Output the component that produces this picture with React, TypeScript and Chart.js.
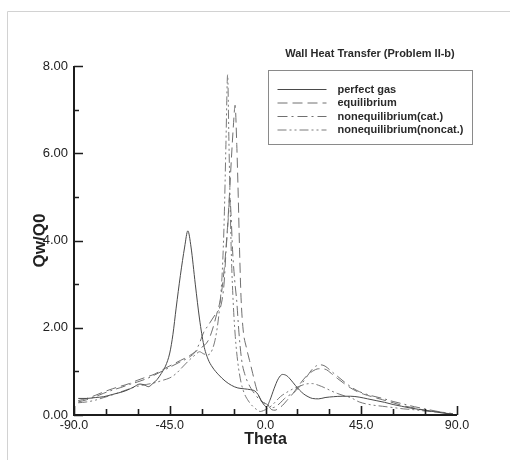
import React, { useEffect, useRef } from "react";
import { Chart, registerables } from "chart.js";

Chart.register(...registerables);

const FONT = "'Liberation Sans', Arial, Helvetica, sans-serif";

const chartTitle = "Wall Heat Transfer (Problem II-b)";
const xTitle = "Theta";
const yTitle = "Qw/Q0";
const seriesLabels = ["perfect gas", "equilibrium", "nonequilibrium(cat.)", "nonequilibrium(noncat.)"];

// [theta, Qw/Q0]
const perfectGas: [number, number][] = [
  [-88, 0.38], [-84, 0.38], [-80, 0.4], [-76, 0.42], [-72, 0.47], [-68, 0.52], [-65, 0.57], [-62, 0.64],
  [-59, 0.71], [-57, 0.69], [-55, 0.65], [-53, 0.72], [-51, 0.81], [-49, 0.95], [-47, 1.12], [-45, 1.42],
  [-43.5, 1.85], [-42, 2.45], [-40, 3.2], [-38, 3.85], [-36.5, 4.22], [-35, 3.85], [-33, 3.0], [-31, 2.2],
  [-29, 1.6], [-27, 1.28], [-25, 1.1], [-22, 0.92], [-19, 0.78], [-16, 0.68], [-13, 0.62], [-10, 0.6],
  [-7, 0.58], [-5, 0.55], [-3.5, 0.47], [-2, 0.33], [-0.5, 0.22], [0.5, 0.19], [2, 0.33], [4, 0.6],
  [6, 0.83], [8, 0.93], [10, 0.9], [12, 0.8], [14, 0.68], [16, 0.57], [18, 0.48], [20, 0.42], [22, 0.38],
  [25, 0.37], [28, 0.4], [32, 0.42], [36, 0.43], [40, 0.43], [44, 0.41], [48, 0.37], [52, 0.33], [56, 0.29],
  [60, 0.24], [64, 0.2], [68, 0.16], [72, 0.13], [76, 0.1], [80, 0.07], [84, 0.04], [88, 0.02],
];

const equilibrium: [number, number][] = [
  [-88, 0.33], [-84, 0.38], [-80, 0.45], [-76, 0.53], [-72, 0.6], [-68, 0.66], [-64, 0.72], [-60, 0.8],
  [-56, 0.87], [-52, 0.94], [-48, 1.05], [-44, 1.15], [-40, 1.25], [-36, 1.35], [-33, 1.45], [-30, 1.55],
  [-27, 1.7], [-25, 1.95], [-23, 2.3], [-21, 2.7], [-19.5, 3.3], [-18, 4.2], [-17, 5.0], [-16, 5.9],
  [-15, 6.7], [-14.3, 7.1], [-13.5, 6.2], [-12.8, 5.0], [-12.2, 3.8], [-11.5, 2.7], [-10.5, 1.95], [-9, 1.55],
  [-7.5, 1.25], [-6, 0.95], [-4.5, 0.65], [-3, 0.42], [-1.5, 0.3], [0, 0.27], [1.5, 0.2], [3, 0.12],
  [4.5, 0.11], [6, 0.15], [8, 0.22], [10, 0.33], [13, 0.5], [16, 0.7], [19, 0.88], [22, 1.0],
  [25, 1.06], [28, 1.05], [31, 0.95], [34, 0.83], [37, 0.72], [40, 0.62], [43, 0.54], [46, 0.48],
  [50, 0.42], [55, 0.35], [60, 0.28], [65, 0.21], [70, 0.16], [75, 0.11], [80, 0.08], [85, 0.05], [88, 0.03],
];

const noneqCat: [number, number][] = [
  [-88, 0.3], [-84, 0.35], [-80, 0.42], [-76, 0.5], [-72, 0.57], [-68, 0.63], [-64, 0.7], [-60, 0.76],
  [-56, 0.83], [-52, 0.92], [-48, 1.02], [-44, 1.12], [-40, 1.22], [-36, 1.32], [-33, 1.45], [-31, 1.65],
  [-29, 1.9], [-27, 2.05], [-25, 2.2], [-23, 2.35], [-21, 2.5], [-19.5, 3.0], [-18.5, 3.8], [-17.5, 4.5],
  [-16.8, 5.0], [-16.2, 4.6], [-15.5, 3.8], [-14.5, 3.1], [-13.5, 2.6], [-12.5, 1.9], [-11.2, 1.26], [-9.5, 0.9],
  [-7.3, 0.65], [-5, 0.48], [-2.6, 0.34], [-1, 0.28], [0.5, 0.25], [2, 0.2], [3.5, 0.17], [5, 0.2],
  [7, 0.28], [9, 0.38], [11, 0.45], [13, 0.5], [16, 0.65], [19, 0.85], [22, 1.05], [24, 1.13], [26, 1.15],
  [28, 1.12], [31, 1.0], [34, 0.88], [37, 0.76], [40, 0.65], [43, 0.56], [46, 0.5], [50, 0.44], [55, 0.38],
  [60, 0.31], [65, 0.25], [70, 0.19], [75, 0.14], [80, 0.09], [85, 0.05], [88, 0.03],
];

const noneqNoncat: [number, number][] = [
  [-88, 0.28], [-84, 0.3], [-80, 0.34], [-76, 0.4], [-72, 0.46], [-68, 0.53], [-64, 0.6], [-60, 0.66],
  [-56, 0.7], [-52, 0.74], [-48, 0.8], [-45, 0.85], [-42, 0.95], [-39, 1.1], [-36, 1.25], [-33, 1.38],
  [-31, 1.45], [-29, 1.4], [-27, 1.38], [-25, 1.5], [-23, 1.9], [-21.5, 2.5], [-20.3, 3.3], [-19.4, 4.5],
  [-18.6, 6.2], [-17.8, 7.8], [-17.2, 6.3], [-16.6, 4.8], [-16, 3.6], [-15.2, 2.6], [-14.2, 1.8], [-13, 1.2],
  [-11.5, 0.75], [-10, 0.5], [-8, 0.32], [-6, 0.2], [-4, 0.12], [-2.5, 0.08], [-1, 0.1], [1, 0.15],
  [3, 0.22], [5, 0.32], [7, 0.42], [10, 0.52], [13, 0.6], [16, 0.66], [19, 0.71], [22, 0.72], [25, 0.68],
  [28, 0.62], [31, 0.55], [34, 0.49], [37, 0.44], [40, 0.4], [44, 0.3], [50, 0.23], [55, 0.2], [60, 0.17],
  [65, 0.14], [70, 0.12], [75, 0.09], [80, 0.07], [85, 0.04], [88, 0.02],
];

const xMajorTicks = [-90, -45, 0, 45, 90];
const xMinorTicks = [-75, -60, -30, -15, 15, 30, 60, 75];
const yMajorTicks = [0, 2, 4, 6, 8];
const yMinorTicks = [1, 3, 5, 7];

const seriesData = [perfectGas, equilibrium, noneqCat, noneqNoncat];
const seriesColors = ["#4a4a4a", "#707070", "#707070", "#7a7a7a"];
const seriesDash: number[][] = [[], [10, 5], [10, 4, 2, 4], [9, 3, 2, 3, 2, 3]];

const decorPlugin = {
  id: "decor",
  beforeDraw(chart: any) {
    const ctx = chart.ctx;
    ctx.save();
    ctx.fillStyle = "#ffffff";
    ctx.fillRect(0, 0, chart.width, chart.height);
    ctx.strokeStyle = "#d2d2d2";
    ctx.lineWidth = 1;
    ctx.beginPath();
    ctx.moveTo(7.5, chart.height);
    ctx.lineTo(7.5, 11.5);
    ctx.lineTo(chart.width, 11.5);
    ctx.stroke();
    ctx.restore();
  },
  afterDraw(chart: any) {
    const ctx = chart.ctx;
    const a = chart.chartArea;
    const xs = chart.scales.x;
    const ys = chart.scales.y;
    ctx.save();
    ctx.strokeStyle = "#1c1c1c";
    ctx.lineWidth = 2;
    ctx.beginPath();
    ctx.moveTo(a.left, a.top);
    ctx.lineTo(a.left, a.bottom);
    ctx.lineTo(a.right, a.bottom);
    ctx.stroke();
    ctx.lineWidth = 1.6;
    ctx.beginPath();
    yMajorTicks.forEach((v) => {
      const py = Math.round(ys.getPixelForValue(v)) + 0.5;
      ctx.moveTo(a.left, py);
      ctx.lineTo(a.left + 9, py);
    });
    yMinorTicks.forEach((v) => {
      const py = Math.round(ys.getPixelForValue(v)) + 0.5;
      ctx.moveTo(a.left, py);
      ctx.lineTo(a.left + 5, py);
    });
    xMajorTicks.forEach((v) => {
      const px = Math.round(xs.getPixelForValue(v)) + 0.5;
      ctx.moveTo(px, a.bottom);
      ctx.lineTo(px, a.bottom - 9);
    });
    xMinorTicks.forEach((v) => {
      const px = Math.round(xs.getPixelForValue(v)) + 0.5;
      ctx.moveTo(px, a.bottom);
      ctx.lineTo(px, a.bottom - 6);
    });
    ctx.stroke();

    // title
    ctx.fillStyle = "#2a2a2a";
    ctx.font = `bold 11px ${FONT}`;
    ctx.textAlign = "center";
    ctx.textBaseline = "middle";
    ctx.fillText(chartTitle, a.left + 296, a.top - 12);

    // legend
    const bx = a.left + 194.5;
    const by = a.top + 4.5;
    ctx.strokeStyle = "#8a8a8a";
    ctx.lineWidth = 1;
    ctx.strokeRect(bx, by, 204, 74);
    ctx.textAlign = "left";
    chart.data.datasets.forEach((ds: any, i: number) => {
      const ly = by + 19 + i * 13.5;
      ctx.strokeStyle = ds.borderColor;
      ctx.lineWidth = 1;
      ctx.setLineDash(ds.borderDash || []);
      ctx.beginPath();
      ctx.moveTo(bx + 9, ly);
      ctx.lineTo(bx + 58, ly);
      ctx.stroke();
      ctx.setLineDash([]);
      ctx.fillStyle = "#2a2a2a";
      ctx.fillText(ds.label, bx + 69, ly);
    });
    ctx.restore();
  },
};

export default function App() {
  const ref = useRef<HTMLCanvasElement | null>(null);

  useEffect(() => {
    if (!ref.current) return;
    const chart = new Chart(ref.current, {
      type: "line",
      data: {
        datasets: seriesLabels.map((label, i) => ({
          label,
          data: seriesData[i].map(([x, y]) => ({ x, y })),
          borderColor: seriesColors[i],
          borderWidth: 1,
          borderDash: seriesDash[i],
          pointRadius: 0,
          fill: false,
          cubicInterpolationMode: "monotone" as const,
        })),
      },
      options: {
        responsive: false,
        animation: false,
        layout: { padding: { left: 0, top: 66, right: 53, bottom: 0 } },
        plugins: {
          legend: { display: false },
          title: { display: false },
          tooltip: { enabled: false },
        },
        scales: {
          x: {
            type: "linear",
            min: -90,
            max: 90,
            grid: { display: false, drawTicks: false },
            border: { display: false },
            afterBuildTicks: (s: any) => {
              s.ticks = xMajorTicks.map((v) => ({ value: v }));
            },
            afterFit: (s: any) => {
              s.height = 45;
            },
            ticks: {
              autoSkip: false,
              maxRotation: 0,
              padding: 3,
              color: "#222",
              font: { family: FONT, size: 12.5 },
              callback: (v: any) => Number(v).toFixed(1),
            },
            title: {
              display: true,
              text: xTitle,
              color: "#222",
              font: { family: FONT, size: 16, weight: "bold" },
              padding: { top: 0, bottom: 11 },
            },
          },
          y: {
            type: "linear",
            min: 0,
            max: 8,
            grid: { display: false, drawTicks: false },
            border: { display: false },
            afterBuildTicks: (s: any) => {
              s.ticks = yMajorTicks.map((v) => ({ value: v }));
            },
            afterFit: (s: any) => {
              s.width = 74;
            },
            ticks: {
              padding: 6,
              color: "#222",
              font: { family: FONT, size: 13 },
              callback: (v: any) => Number(v).toFixed(2),
            },
            title: {
              display: true,
              text: yTitle,
              color: "#222",
              font: { family: FONT, size: 17, weight: "bold" },
              padding: { top: 30, bottom: 0 },
            },
          },
        },
      },
      plugins: [decorPlugin],
    });
    return () => chart.destroy();
  }, []);

  return (
    <div style={{ position: "absolute", left: 0, top: 0, width: 510, height: 460, background: "#fff" }}>
      <canvas ref={ref} width={510} height={460} style={{ display: "block", width: 510, height: 460 }} />
    </div>
  );
}
